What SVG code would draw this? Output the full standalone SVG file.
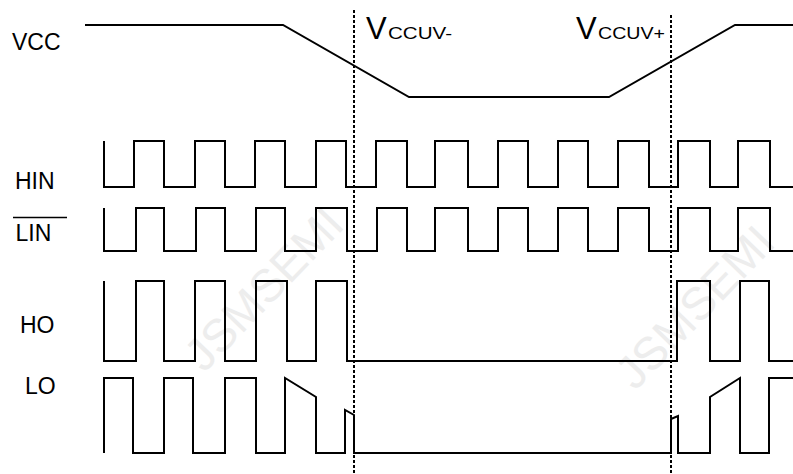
<svg xmlns="http://www.w3.org/2000/svg" width="793" height="474" viewBox="0 0 793 474">
<style>
.wm{font-family:"Liberation Sans",Arial,sans-serif;font-size:46px;fill:#ededed;}
.lbl{font-family:"Liberation Sans",Arial,sans-serif;font-size:23px;fill:#000;}
.big{font-family:"Liberation Sans",Arial,sans-serif;font-size:31px;fill:#000;}
.sm{font-family:"Liberation Sans",Arial,sans-serif;font-size:16px;fill:#000;}
.wave{fill:none;stroke:#000;stroke-width:2;stroke-linejoin:miter;}
.dash{fill:none;stroke:#000;stroke-width:2;stroke-dasharray:3 2;}
</style>
<rect x="0" y="0" width="793" height="474" fill="#fff"/>
<g id="watermark">
<text class="wm" text-anchor="middle" transform="translate(275,300) rotate(-46)">JSMSEMI</text>
<text class="wm" text-anchor="middle" transform="translate(706,318) rotate(-46)">JSMSEMI</text>
</g>
<g id="vcc">
<text class="lbl" x="12" y="50">VCC</text>
<path class="wave" d="M85,25 H283 L409,97 H609 L735,25 H793"/>
</g>
<g id="vccuv-minus">
<text class="big" x="366" y="39">V</text>
<text class="sm" x="388" y="39" textLength="64" lengthAdjust="spacingAndGlyphs">CCUV-</text>
</g>
<g id="vccuv-plus">
<text class="big" x="576" y="39">V</text>
<text class="sm" x="598" y="39" textLength="67" lengthAdjust="spacingAndGlyphs">CCUV+</text>
</g>
<g id="hin">
<text class="lbl" x="15" y="189">HIN</text>
<path class="wave" d="M104,141 V187 H134 V141 H164 V187 H195 V141 H225 V187 H255 V141 H285 V187 H316 V141 H346 V187 H376 V141 H407 V187 H435 V141 H468 V187 H498 V141 H528 V187 H558 V141 H588 V187 H618 V141 H649 V187 H678 V141 H710 V187 H738 V141 H770 V187 H793"/>
</g>
<g id="lin">
<text class="lbl" x="15.5" y="241">LIN</text>
<line x1="13" y1="217.5" x2="67" y2="217.5" stroke="#000" stroke-width="1.5"/>
<path class="wave" d="M104,208 V251 H136 V208 H164 V251 H196 V208 H225 V251 H256 V208 H285 V251 H316 V208 H347 V251 H377 V208 H407 V251 H435 V208 H468 V251 H498 V208 H528 V251 H558 V208 H588 V251 H618 V208 H649 V251 H678 V208 H710 V251 H738 V208 H770 V251 H793"/>
</g>
<g id="ho">
<text class="lbl" x="20" y="333">HO</text>
<path class="wave" d="M104,281 V361 H136 V281 H164 V361 H195 V281 H225 V361 H256 V281 H287 V361 H316 V281 H347 V361 H677 V281 H710 V361 H740 V281 H769 V361 H793"/>
</g>
<g id="lo">
<text class="lbl" x="25" y="394">LO</text>
<path class="wave" d="M104,453 V378 H133 V453 H164 V378 H193 V453 H225 V378 H256 V453 H285 V378 L316,397 V453 H345 V410 L354,415 V453 H671 V419 L678,416 V453 H710 V397 L740,378 V453 H769 V378 H793"/>
</g>
<g id="connectors">
<line class="dash" x1="354" y1="10" x2="354" y2="474"/>
<line class="dash" x1="671" y1="15" x2="671" y2="474"/>
</g>
</svg>
